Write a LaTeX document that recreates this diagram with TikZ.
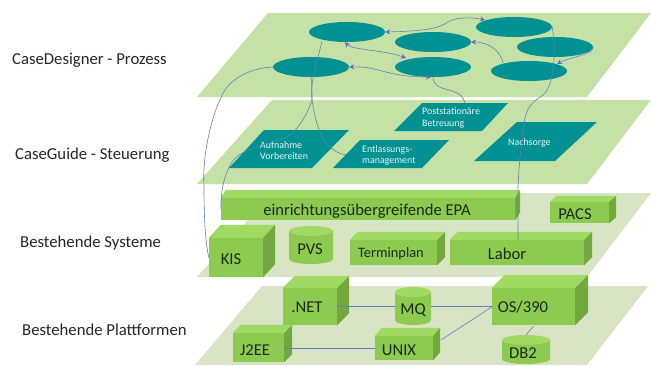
\documentclass[tikz,border=0pt]{standalone}
\usepackage{fontspec}
\setmainfont{Carlito}
\usetikzlibrary{arrows.meta,shapes.geometric}
\definecolor{plateA}{HTML}{C5E1A5}
\definecolor{plateB}{HTML}{D9E4C4}
\definecolor{tealc}{HTML}{009192}
\definecolor{cfront}{HTML}{8CCB4F}
\definecolor{ctop}{HTML}{A0DA63}
\definecolor{cside}{HTML}{72A83E}
\definecolor{linec}{HTML}{5F82B8}
\definecolor{tipc}{HTML}{6468C0}
\definecolor{inkc}{HTML}{1E2A20}
\tikzset{
  x=1pt,y=-1pt,
  lefttext/.style={anchor=west,font=\fontsize{16.7}{18}\selectfont,text=black!85,inner sep=0pt},
  ell/.style={ellipse,fill=tealc,minimum width=76pt,minimum height=20pt,inner sep=0pt},
  flow/.style={draw=linec,line width=0.6pt},
  twoway/.style={flow,{Stealth[length=5pt,width=5pt,color=tipc]}-{Stealth[length=5pt,width=5pt,color=tipc]}},
  oneway/.style={flow,-{Stealth[length=5pt,width=5pt,color=tipc]}},
  paratext/.style={anchor=west,align=left,text=white!92!tealc,font=\fontsize{9.9}{11.5}\selectfont,inner sep=0pt},
  cubetext/.style={text=inkc,font=\fontsize{16.6}{18}\selectfont,inner sep=0pt},
  facefront/.style={fill=cfront,inner sep=0pt},
}
\newcommand{\mkcube}[7]{% name x1 y1 x2 y2 dx dy
  \pgfmathsetmacro{\mcx}{(#2+#4)/2}\pgfmathsetmacro{\mcy}{(#3+#5)/2}
  \pgfmathsetmacro{\mw}{#4-#2}\pgfmathsetmacro{\mh}{#5-#3}
  \node[facefront,minimum width=\mw pt,minimum height=\mh pt] (#1) at (\mcx,\mcy) {};
  \fill[ctop] (#1.north west) -- ([shift={(#6,-#7)}]#1.north west) -- ([shift={(#6,-#7)}]#1.north east) -- (#1.north east) -- cycle;
  \fill[cside] (#1.north east) -- ([shift={(#6,-#7)}]#1.north east) -- ([shift={(#6,-#7)}]#1.south east) -- (#1.south east) -- cycle;
}
\newcommand{\mkcyl}[5]{% name x1 ytop x2 ybot
  \pgfmathsetmacro{\mcx}{(#2+#4)/2}\pgfmathsetmacro{\mcy}{(#3+#5)/2}
  \pgfmathsetmacro{\mw}{#4-#2}\pgfmathsetmacro{\mh}{#5-#3}\pgfmathsetmacro{\mr}{(#4-#2)/2}
  \fill[cfront] (#2,#3+5) -- (#2,#5-5) arc[start angle=180,end angle=360,x radius=\mr pt,y radius=5pt] -- (#4,#3+5) -- cycle;
  \fill[ctop] (\mcx,#3+5) ellipse[x radius=\mr pt,y radius=5pt];
  \node[inner sep=0pt,minimum width=\mw pt,minimum height=\mh pt] (#1) at (\mcx,\mcy) {};
}
\begin{document}
\begin{tikzpicture}
\useasboundingbox (0,0) rectangle (651,365);
\fill[white] (0,0) rectangle (651,365);
% plates
\fill[plateA] (268,13) -- (651,13) -- (587,97) -- (197,97) -- cycle;
\fill[plateA] (272,100) -- (651,100) -- (587,184) -- (197,184) -- cycle;
\fill[plateB] (272,193) -- (651,193) -- (587,277) -- (197,277) -- cycle;
\fill[plateB] (262,286) -- (648,286) -- (587,365) -- (195,365) -- cycle;
% level labels
\node[lefttext] (l1) at (12,60) {CaseDesigner - Prozess};
\node[lefttext] (l2) at (15,155) {CaseGuide - Steuerung};
\node[lefttext] (l3) at (20,243) {Bestehende Systeme};
\node[lefttext] (l4) at (22,330) {Bestehende Plattformen};
% process ellipses
\node[ell] (e1) at (347,32) {};
\node[ell] (e2) at (433,42) {};
\node[ell] (e3) at (514,27) {};
\node[ell] (e4) at (555,47) {};
\node[ell] (e5) at (529,71) {};
\node[ell] (e6) at (433,67) {};
\node[ell] (e7) at (311,67) {};
% control parallelograms
\fill[tealc] (422,103) -- (508,103) -- (482,131) -- (394,131) -- cycle;
\fill[tealc] (517,122) -- (597,122) -- (555,161) -- (474,161) -- cycle;
\fill[tealc] (264,130) -- (349,130) -- (312,168) -- (229,168) -- cycle;
\fill[tealc] (360,140) -- (449,140) -- (422,168) -- (333,168) -- cycle;
\node[paratext] (post) at (422,118) {Poststationäre\\Betreuung};
\node[paratext] (nach) at (508,142.5) {Nachsorge};
\node[paratext] (aufn) at (260,150.5) {Aufnahme\\Vorbereiten};
\node[paratext] (entl) at (362,155.5) {Entlassungs-\\management};
\coordinate (postT) at (465,103);
\coordinate (entlL) at (347,155);
% existing systems
\mkcube{epa}{221}{198}{515}{220}{5}{8}
\mkcube{pacs}{550}{202}{609}{223}{7}{6}
\mkcube{kis}{209}{238}{263}{277}{12}{13}
\mkcyl{pvs}{289}{226}{333}{264}
\mkcube{term}{350}{240}{437}{265}{8}{8}
\mkcube{labor}{450}{240}{584}{265}{8}{8}
\node[cubetext] (tepa) at (367,211) {einrichtungsübergreifende EPA};
\node[cubetext] (tpacs) at (575,214) {PACS};
\node[cubetext] (tkis) at (231,259) {KIS};
\node[cubetext] (tpvs) at (310,249) {PVS};
\node[cubetext,font=\fontsize{14.4}{16}\selectfont] (tterm) at (391,254) {Terminplan};
\node[cubetext] (tlabor) at (507,254) {Labor};
% platforms
\mkcube{net}{283}{288}{337}{325}{12}{12}
\mkcyl{mq}{395}{287}{431}{325}
\mkcube{os}{492}{288}{575}{325}{13}{13}
\mkcube{jee}{233}{333}{284}{362}{8}{8}
\mkcube{unix}{375}{336}{433}{360}{7}{8}
\mkcyl{dbz}{502}{335}{550}{364}
\node[cubetext] (tnet) at (307,307) {.NET};
\node[cubetext] (tmq) at (413,310) {MQ};
\node[cubetext] (tos) at (523,307) {OS/390};
\node[cubetext] (tjee) at (255,350) {J2EE};
\node[cubetext] (tunix) at (399,350) {UNIX};
\node[cubetext] (tdb) at (523,353) {DB2};
% process flow
\draw[twoway] (e1.east) .. controls (423,31) and (438,29) .. (448,22) .. controls (456,17) and (472,17) .. (485,20);
\draw[twoway] (e1.south) ++(-2,0) .. controls (352,50) and (385,50) .. (406,58);
\draw[twoway] (e7.east) .. controls (380,66) and (385,77) .. (431,77);
\draw[oneway] (e5.north) ++(-26,2) .. controls (501,52) and (490,42) .. (e2.east);
\draw[oneway] (e4.east) .. controls (593,55) and (570,57) .. (557,64);
% process to control/systems
\draw[flow] (e3.east) .. controls (556,50) and (555,85) .. (543,95) .. controls (532,103) and (526,106) .. (524,125) .. controls (520,150) and (517,190) .. (518,200) -- (labor.north -| 518,240);
\draw[flow] (e6.south) .. controls (434,95) and (460,84) .. (postT);
\draw[flow] (e7.west) .. controls (245,68) and (225,84) .. (221,98) .. controls (212,115) and (202,155) .. (204,186) .. controls (204,215) and (205,240) .. (kis.west);
\draw[flow] (e1.south west) ++(2,2) .. controls (315,70) and (310,85) .. (312,100) .. controls (315,118) and (320,152) .. (entlL);
\draw[flow] (e7.south) .. controls (312,85) and (312,95) .. (312,100) .. controls (305,120) and (296,132) .. (285,138) .. controls (260,146) and (240,150) .. (232,162) .. controls (224,175) and (221,190) .. (epa.west);
% platform links
\draw[flow] (net.east) ++(0,-0.5) -- (mq.west |- 0,306);
\draw[flow] (mq.east |- 0,306) -- (os.west |- 0,306);
\draw[flow] (jee.east |- 0,348) -- (unix.west |- 0,348);
\draw[flow] (unix.north east) ++(8,4) -- (os.west |- 0,307);
\draw[flow] (os.south) ++(0,1) -- (dbz.north);
\end{tikzpicture}
\end{document}
